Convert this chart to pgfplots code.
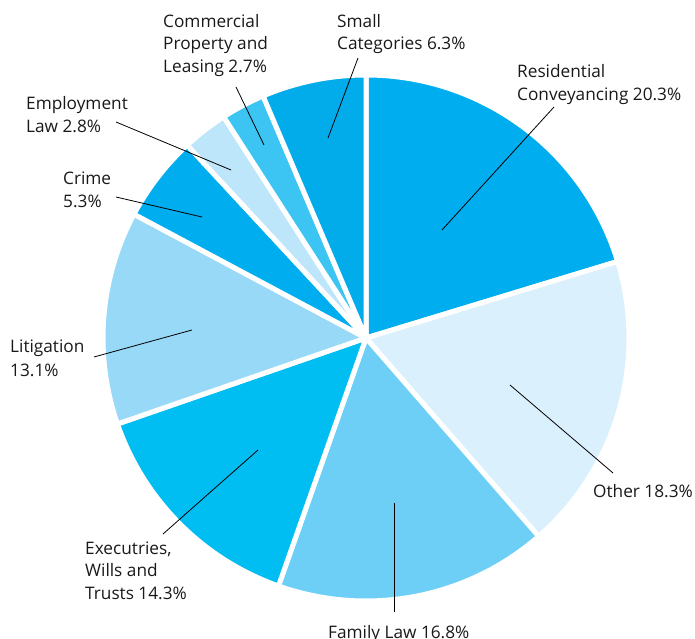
\documentclass[border=0pt]{standalone}
\usepackage{pgfplots}
\pgfplotsset{compat=1.18}
\usepackage{fontspec}
\setmainfont{Open Sans}
\definecolor{cRes}{HTML}{00ADEE}
\definecolor{cOth}{HTML}{DAF0FC}
\definecolor{cFam}{HTML}{6DCFF6}
\definecolor{cExe}{HTML}{00BDF2}
\definecolor{cLit}{HTML}{97D9F7}
\definecolor{cCri}{HTML}{00AEEF}
\definecolor{cEmp}{HTML}{BDE6FA}
\definecolor{cCom}{HTML}{3CC5F2}
\definecolor{cSma}{HTML}{02ABEA}
\newcommand{\lab}{\fontsize{17.3}{22}\selectfont}
\tikzset{lbl/.style={font=\lab, anchor=base west, inner sep=0pt, text=black!90}}
\begin{document}
\begin{tikzpicture}
\begin{axis}[name=ax, width=695bp, height=639bp, scale only axis, hide axis,
  xmin=0, xmax=695, ymin=0, ymax=639, enlargelimits=false, clip=false]
% pie: centre (366,301), radius 263; shares in percent, clockwise from 12 o'clock
% Residential 20.3, Other 18.3, Family 16.8, Executries 14.3, Litigation 13.1,
% Crime 5.3, Employment 2.8, Commercial 2.7, Small 6.3
\pgfplotsset{slice/.style={draw=white, line width=5bp, line join=round, samples=90, variable=\t}}
\addplot[slice, fill=cRes, domain={90-3.6*0}:{90-3.6*20.3}] ({366+263*cos(\t)},{301+263*sin(\t)}) -- (axis cs:366,301) -- cycle;
\addplot[slice, fill=cOth, domain={90-3.6*20.3}:{90-3.6*38.6}] ({366+263*cos(\t)},{301+263*sin(\t)}) -- (axis cs:366,301) -- cycle;
\addplot[slice, fill=cFam, domain={90-3.6*38.6}:{90-3.6*55.4}] ({366+263*cos(\t)},{301+263*sin(\t)}) -- (axis cs:366,301) -- cycle;
\addplot[slice, fill=cExe, domain={90-3.6*55.4}:{90-3.6*69.7}] ({366+263*cos(\t)},{301+263*sin(\t)}) -- (axis cs:366,301) -- cycle;
\addplot[slice, fill=cLit, domain={90-3.6*69.7}:{90-3.6*82.8}] ({366+263*cos(\t)},{301+263*sin(\t)}) -- (axis cs:366,301) -- cycle;
\addplot[slice, fill=cCri, domain={90-3.6*82.8}:{90-3.6*88.1}] ({366+263*cos(\t)},{301+263*sin(\t)}) -- (axis cs:366,301) -- cycle;
\addplot[slice, fill=cEmp, domain={90-3.6*88.1}:{90-3.6*90.9}] ({366+263*cos(\t)},{301+263*sin(\t)}) -- (axis cs:366,301) -- cycle;
\addplot[slice, fill=cCom, domain={90-3.6*90.9}:{90-3.6*93.6}] ({366+263*cos(\t)},{301+263*sin(\t)}) -- (axis cs:366,301) -- cycle;
\addplot[slice, fill=cSma, domain={90-3.6*93.6}:{90-3.6*100}] ({366+263*cos(\t)},{301+263*sin(\t)}) -- (axis cs:366,301) -- cycle;
% leader lines
\pgfplotsset{lead/.style={black, line width=0.8bp}}
\addplot[lead] coordinates {(442,409) (554,532)};
\addplot[lead] coordinates {(328,501) (358,581)};
\addplot[lead] coordinates {(236,552) (264,494)};
\addplot[lead] coordinates {(116,517) (231,469)};
\addplot[lead] coordinates {(116,442) (202,422)};
\addplot[lead] coordinates {(94,282) (192,309)};
\addplot[lead] coordinates {(163,105) (258,189)};
\addplot[lead] coordinates {(394,136) (394,27)};
\addplot[lead] coordinates {(510,254) (613,166)};
% labels
\node[lbl] at (axis cs:163,611) {Commercial};
\node[lbl] at (axis cs:163,589) {Property and};
\node[lbl] at (axis cs:163,566) {Leasing 2.7\%};
\node[lbl] at (axis cs:337,611) {Small};
\node[lbl] at (axis cs:337,589) {Categories 6.3\%};
\node[lbl] at (axis cs:517,561) {Residential};
\node[lbl] at (axis cs:517,538) {Conveyancing 20.3\%};
\node[lbl] at (axis cs:26,529) {Employment};
\node[lbl] at (axis cs:26,506) {Law 2.8\%};
\node[lbl] at (axis cs:63,454) {Crime};
\node[lbl] at (axis cs:63,431) {5.3\%};
\node[lbl] at (axis cs:10,286) {Litigation};
\node[lbl] at (axis cs:10,262) {13.1\%};
\node[lbl] at (axis cs:85,84) {Executries,};
\node[lbl] at (axis cs:85,62) {Wills and};
\node[lbl] at (axis cs:85,39) {Trusts 14.3\%};
\node[lbl] at (axis cs:593,141) {Other 18.3\%};
\node[lbl] at (axis cs:328,1) {Family Law 16.8\%};
\end{axis}
\pgfresetboundingbox
\useasboundingbox (ax.south west) rectangle (ax.north east);
\end{tikzpicture}
\end{document}
